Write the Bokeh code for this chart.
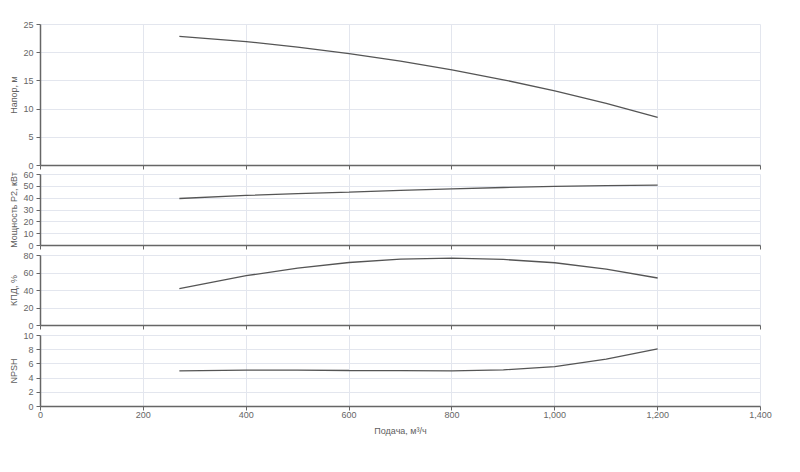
from bokeh.plotting import figure
from bokeh.layouts import column
from bokeh.models import FixedTicker, NumeralTickFormatter, ColumnDataSource, Range1d
from bokeh.embed import file_html
from bokeh.resources import INLINE

# ---- data ----
flow = [270, 400, 500, 600, 700, 800, 900, 1000, 1100, 1200]
head = [22.9, 21.96, 21.0, 19.84, 18.5, 16.96, 15.2, 13.25, 11.0, 8.53]
power = [39.7, 42.3, 43.8, 45.1, 46.6, 47.9, 49.0, 49.9, 50.6, 51.0]
efficiency = [42.1, 56.9, 65.5, 72.0, 75.8, 77.0, 75.5, 71.7, 64.5, 54.3]
npsh = [5.03, 5.12, 5.12, 5.07, 5.05, 5.03, 5.16, 5.63, 6.67, 8.13]

x_ticks = [0, 200, 400, 600, 800, 1000, 1200, 1400]
head_ticks = [0, 5, 10, 15, 20, 25]
power_ticks = [0, 10, 20, 30, 40, 50, 60]
eff_ticks = [0, 20, 40, 60, 80]
npsh_ticks = [0, 2, 4, 6, 8, 10]

x_title = "Подача, м³/ч"
titles = ["Напор, м", "Мощность P2, кВт", "КПД, %", "NPSH"]

src = ColumnDataSource(dict(q=flow, h=head, p=power, e=efficiency, n=npsh))

FONT = "Liberation Sans"
GRID = "#e3e6ee"
AXIS = "#666666"
LINE = "#555555"

W = 784


def panel(col, ymax, yticks, ytitle, frame_h, top, bottom, last=False):
    h = top + frame_h + bottom
    p = figure(width=W, height=h, output_backend="svg", toolbar_location=None,
               x_range=Range1d(0, 1400), y_range=Range1d(0, ymax),
               min_border_left=40, min_border_right=24,
               min_border_top=top, min_border_bottom=bottom)
    p.outline_line_color = GRID
    p.background_fill_color = "white"
    p.border_fill_color = "white"
    p.line("q", col, source=src, line_color=LINE, line_width=1.3)

    p.xaxis.ticker = FixedTicker(ticks=x_ticks)
    p.yaxis.ticker = FixedTicker(ticks=yticks)
    p.xgrid.ticker = FixedTicker(ticks=x_ticks)
    p.ygrid.ticker = FixedTicker(ticks=yticks)
    p.grid.grid_line_color = GRID
    p.grid.grid_line_width = 1

    for ax in (p.xaxis, p.yaxis):
        ax.axis_line_color = AXIS
        ax.axis_line_width = 1.5
        ax.major_tick_line_color = AXIS
        ax.major_tick_out = 4
        ax.major_tick_in = 0
        ax.minor_tick_out = 0
        ax.minor_tick_in = 0
        ax.major_label_text_font = FONT
        ax.major_label_text_font_size = "9px"
        ax.major_label_text_color = "#666666"
        ax.axis_label_text_font = FONT
        ax.axis_label_text_font_size = "9px"
        ax.axis_label_text_color = "#606060"
        ax.axis_label_text_font_style = "normal"

    p.yaxis.axis_label = ytitle
    p.yaxis.major_label_standoff = 3
    p.yaxis.axis_label_standoff = 1

    if last:
        p.xaxis.formatter = NumeralTickFormatter(format="0,0")
        p.xaxis.axis_label = x_title
        p.xaxis.major_label_standoff = 1
        p.xaxis.axis_label_standoff = 5
    else:
        p.xaxis.major_label_overrides = {t: "" for t in x_ticks}
        p.xaxis.major_label_standoff = 0
    return p


p1 = panel("h", 25, head_ticks, titles[0], 141, 24, 5)
p2 = panel("p", 60, power_ticks, titles[1], 71, 4, 5)
p3 = panel("e", 80, eff_ticks, titles[2], 70, 5, 5)
p4 = panel("n", 10, npsh_ticks, titles[3], 71, 5, 40, last=True)

layout = column(p1, p2, p3, p4, spacing=0)

open("out.html", "w").write(file_html(layout, INLINE))
